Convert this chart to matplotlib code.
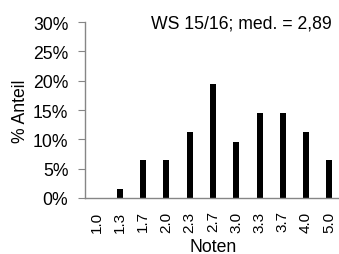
import matplotlib
matplotlib.use('Agg')
import matplotlib.pyplot as plt
from matplotlib.ticker import PercentFormatter

plt.rcParams['font.family'] = ['Liberation Sans', 'DejaVu Sans']

noten = ['1.0', '1.3', '1.7', '2.0', '2.3', '2.7', '3.0', '3.3', '3.7', '4.0', '5.0']
anteil = [0.0, 1.6, 6.4, 6.4, 11.3, 19.4, 9.6, 14.5, 14.5, 11.3, 6.4]
info = 'WS 15/16; med. = 2,89'

fs = 12.7
fig = plt.figure(figsize=(3.39, 2.55), dpi=100)
ax = fig.add_axes([85/339, 56/255, 256/339, 176/255])

x = range(len(noten))
ax.bar(x, anteil, width=0.26, color='black')
ax.set_xlim(-0.5, len(noten) - 0.5)
ax.set_ylim(0, 30)
ax.set_yticks([0, 5, 10, 15, 20, 25, 30])
ax.yaxis.set_major_formatter(PercentFormatter(decimals=0))
ax.set_xticks(list(x))
ax.set_xticklabels(noten, rotation=90)

for s in ['top', 'right']:
    ax.spines[s].set_visible(False)
for s in ['left', 'bottom']:
    ax.spines[s].set_color('#868686')
    ax.spines[s].set_linewidth(1)
ax.tick_params(axis='y', length=5, color='#868686', labelsize=fs, pad=7)
ax.tick_params(axis='x', length=0, labelsize=11, pad=9)

ax.set_ylabel('% Anteil', fontsize=fs, labelpad=3)
fig.text(213/339, 2.5/255, 'Noten', ha='center', va='baseline', fontsize=fs)
ax.text(0.965, 0.995, info, transform=ax.transAxes, ha='right', va='center', fontsize=fs)

fig.savefig('out.png', dpi=100)
